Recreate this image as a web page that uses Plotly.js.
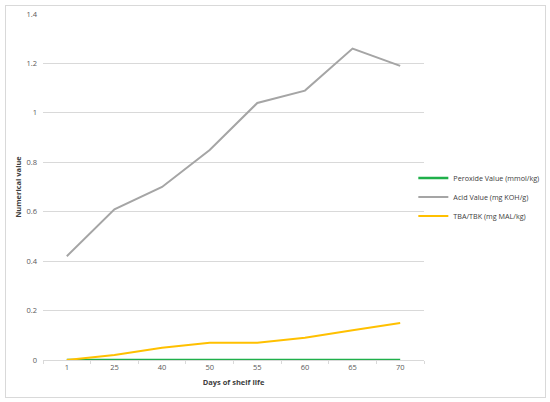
<!DOCTYPE html>
<html><head><meta charset="utf-8">
<script src="https://cdn.plot.ly/plotly-3.0.1.min.js"></script>
<style>html,body{margin:0;padding:0;background:#fff}#c{width:550px;height:402px}
#frame{position:absolute;left:5px;top:5px;width:539px;height:391px;border:1px solid #d9d9d9;pointer-events:none}</style>
</head><body><div id="c"></div><div id="frame"></div>
<script>
const days = ["1","25","40","50","55","60","65","70"];
const peroxide = [0,0,0,0,0,0,0,0];
const acid = [0.42,0.61,0.70,0.85,1.04,1.09,1.26,1.19];
const tba = [0,0.02,0.05,0.07,0.07,0.09,0.12,0.15];
const names = ["Peroxide Value (mmol/kg)","Acid Value (mg KOH/g)","TBA/TBK (mg MAL/kg)"];
const yTicks = [0,0.2,0.4,0.6,0.8,1,1.2,1.4];
const yLabels = ["0","0.2","0.4","0.6","0.8","1","1.2","1.4"];
const F = "Open Sans, Liberation Sans, sans-serif";
const traces = [
 {x:days,y:peroxide,name:names[0],mode:"lines",line:{color:"#1fb04a",width:2.5}},
 {x:days,y:acid,name:names[1],mode:"lines",line:{color:"#a5a5a5",width:2}},
 {x:days,y:tba,name:names[2],mode:"lines",line:{color:"#ffc000",width:2}}
];
const layout = {
 width:550,height:402,
 margin:{l:43,r:126,t:14,b:42,autoexpand:false},
 paper_bgcolor:"#fff",plot_bgcolor:"#fff",
 showlegend:true,
 legend:{x:0.972,y:0.471,xanchor:"left",yanchor:"middle",font:{family:F,size:7.2,color:"#404040"},tracegroupgap:0,itemwidth:30,bgcolor:"rgba(0,0,0,0)"},
 xaxis:{type:"category",range:[-0.5,7.5],showgrid:false,showline:true,linecolor:"#d9d9d9",linewidth:1,
   ticks:"outside",tickson:"boundaries",ticklen:3,tickcolor:"#d9d9d9",
   tickfont:{family:F,size:7.5,color:"#595959"},
   title:{text:"<b>Days of shelf life</b>",font:{family:F,size:7.5,color:"#404040"},standoff:8}},
 yaxis:{range:[0,1.4],tickvals:yTicks,ticktext:yLabels,showgrid:true,gridcolor:"#d9d9d9",gridwidth:1,
   zeroline:false,showline:false,ticks:"",ticklabelstandoff:5,
   tickfont:{family:F,size:7.5,color:"#595959"},
   title:{text:"<b>Numerical value</b>",font:{family:F,size:7.5,color:"#404040"},standoff:3}}
};
Plotly.newPlot("c",traces,layout,{displayModeBar:false,staticPlot:true});
</script></body></html>
